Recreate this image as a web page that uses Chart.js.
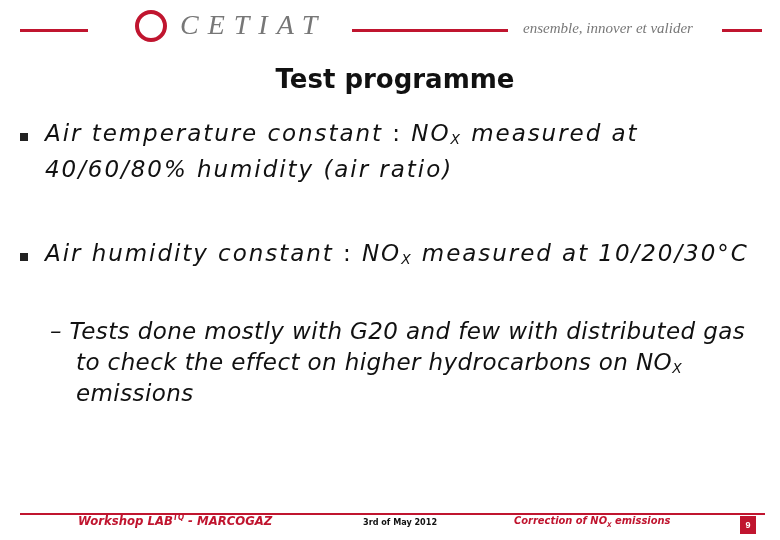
<!DOCTYPE html>
<html><head><meta charset="utf-8">
<script src="https://cdn.jsdelivr.net/npm/chart.js"></script>
<style>
body{margin:0;width:780px;height:540px;background:#fff;position:relative;overflow:hidden;font-family:"DejaVu Sans",sans-serif}
.a{position:absolute;white-space:nowrap}
.rl{position:absolute;background:#c0152f;height:3px}
.bul{position:absolute;width:8px;height:8px;background:#222}
.body{font-style:italic;font-size:23px;letter-spacing:1.95px;color:#111;font-family:"DejaVu Sans",sans-serif}
.sub{letter-spacing:0.4px}
sub{font-size:60%;vertical-align:-3px}
</style></head><body>
<canvas id="c" width="780" height="540" style="position:absolute;left:0;top:0"></canvas>
<div class="rl" style="left:20px;top:29px;width:68px"></div>
<div class="rl" style="left:352px;top:29px;width:156px"></div>
<div class="rl" style="left:722px;top:29px;width:40px"></div>
<div class="a" style="left:135px;top:10px;width:32px;height:32px;border:4px solid #c0152f;border-radius:50%;box-sizing:border-box"></div>
<div class="a" style="left:180px;top:9px;font:italic 28px 'Liberation Serif',serif;letter-spacing:9px;color:#777">CETIAT</div>
<div class="a" style="left:523px;top:20px;font:italic 15px 'Liberation Serif',serif;color:#777">ensemble, innover et valider</div>
<div class="a" id="title" style="left:0;width:790px;text-align:center;top:64px;font-weight:bold;font-size:26px;color:#111"></div>
<div id="bullets"></div>
<div class="rl" style="left:20px;top:513px;width:745px;height:2px"></div>
<div class="a" style="left:78px;top:513px;font:italic bold 13px 'DejaVu Sans Condensed',sans-serif;color:#c0152f">Workshop LAB<sup style="font-size:8px">TQ</sup> - MARCOGAZ</div>
<div class="a" style="left:363px;top:517px;font:bold 9px 'DejaVu Sans Condensed',sans-serif;color:#111">3rd of May 2012</div>
<div class="a" style="left:514px;top:514px;font:italic bold 11px 'DejaVu Sans Condensed',sans-serif;color:#c0152f">Correction of NO<sub>X</sub> emissions</div>
<div class="a" style="left:740px;top:516px;width:16px;height:18px;background:#c0152f;color:#fff;font:bold 9px sans-serif;text-align:center;line-height:18px">9</div>
<script>
var titleText = 'Test programme';
var bulletTops = [120, 240];
var bulletLines = [
  ['Air temperature constant <span style="font-style:normal">:</span> NO<sub>X</sub> measured at', '40/60/80% humidity (air ratio)'],
  ['Air humidity constant <span style="font-style:normal">:</span> NO<sub>X</sub> measured at 10/20/30°C']
];
var subLines = ['– Tests done mostly with G20 and few with distributed gas', 'to check the effect on higher hydrocarbons on NO<sub>X</sub>', 'emissions'];

document.getElementById('title').textContent = titleText;
var html = '';
bulletLines.forEach(function(lines, i) {
    html += '<div class="bul" style="left:20px;top:' + (bulletTops[i] + 13) + 'px"></div>';
    lines.forEach(function(l, j) {
        html += '<div class="a body" style="left:45px;top:' + (bulletTops[i] + j * 36) + 'px">' + l + '</div>';
    });
});
subLines.forEach(function(l, j) {
    html += '<div class="a body sub" style="left:' + (j ? 76 : 50) + 'px;top:' + (318 + j * 31) + 'px">' + l + '</div>';
});
document.getElementById('bullets').innerHTML = html;

// empty chart layer, no data marks on this slide
new Chart(document.getElementById('c').getContext('2d'), {
    type: 'bar',
    data: { labels: [], datasets: [] },
    options: { responsive: false, animation: false, plugins: { legend: { display: false } },
        scales: { x: { display: false }, y: { display: false } } }
});
</script>
</body></html>
